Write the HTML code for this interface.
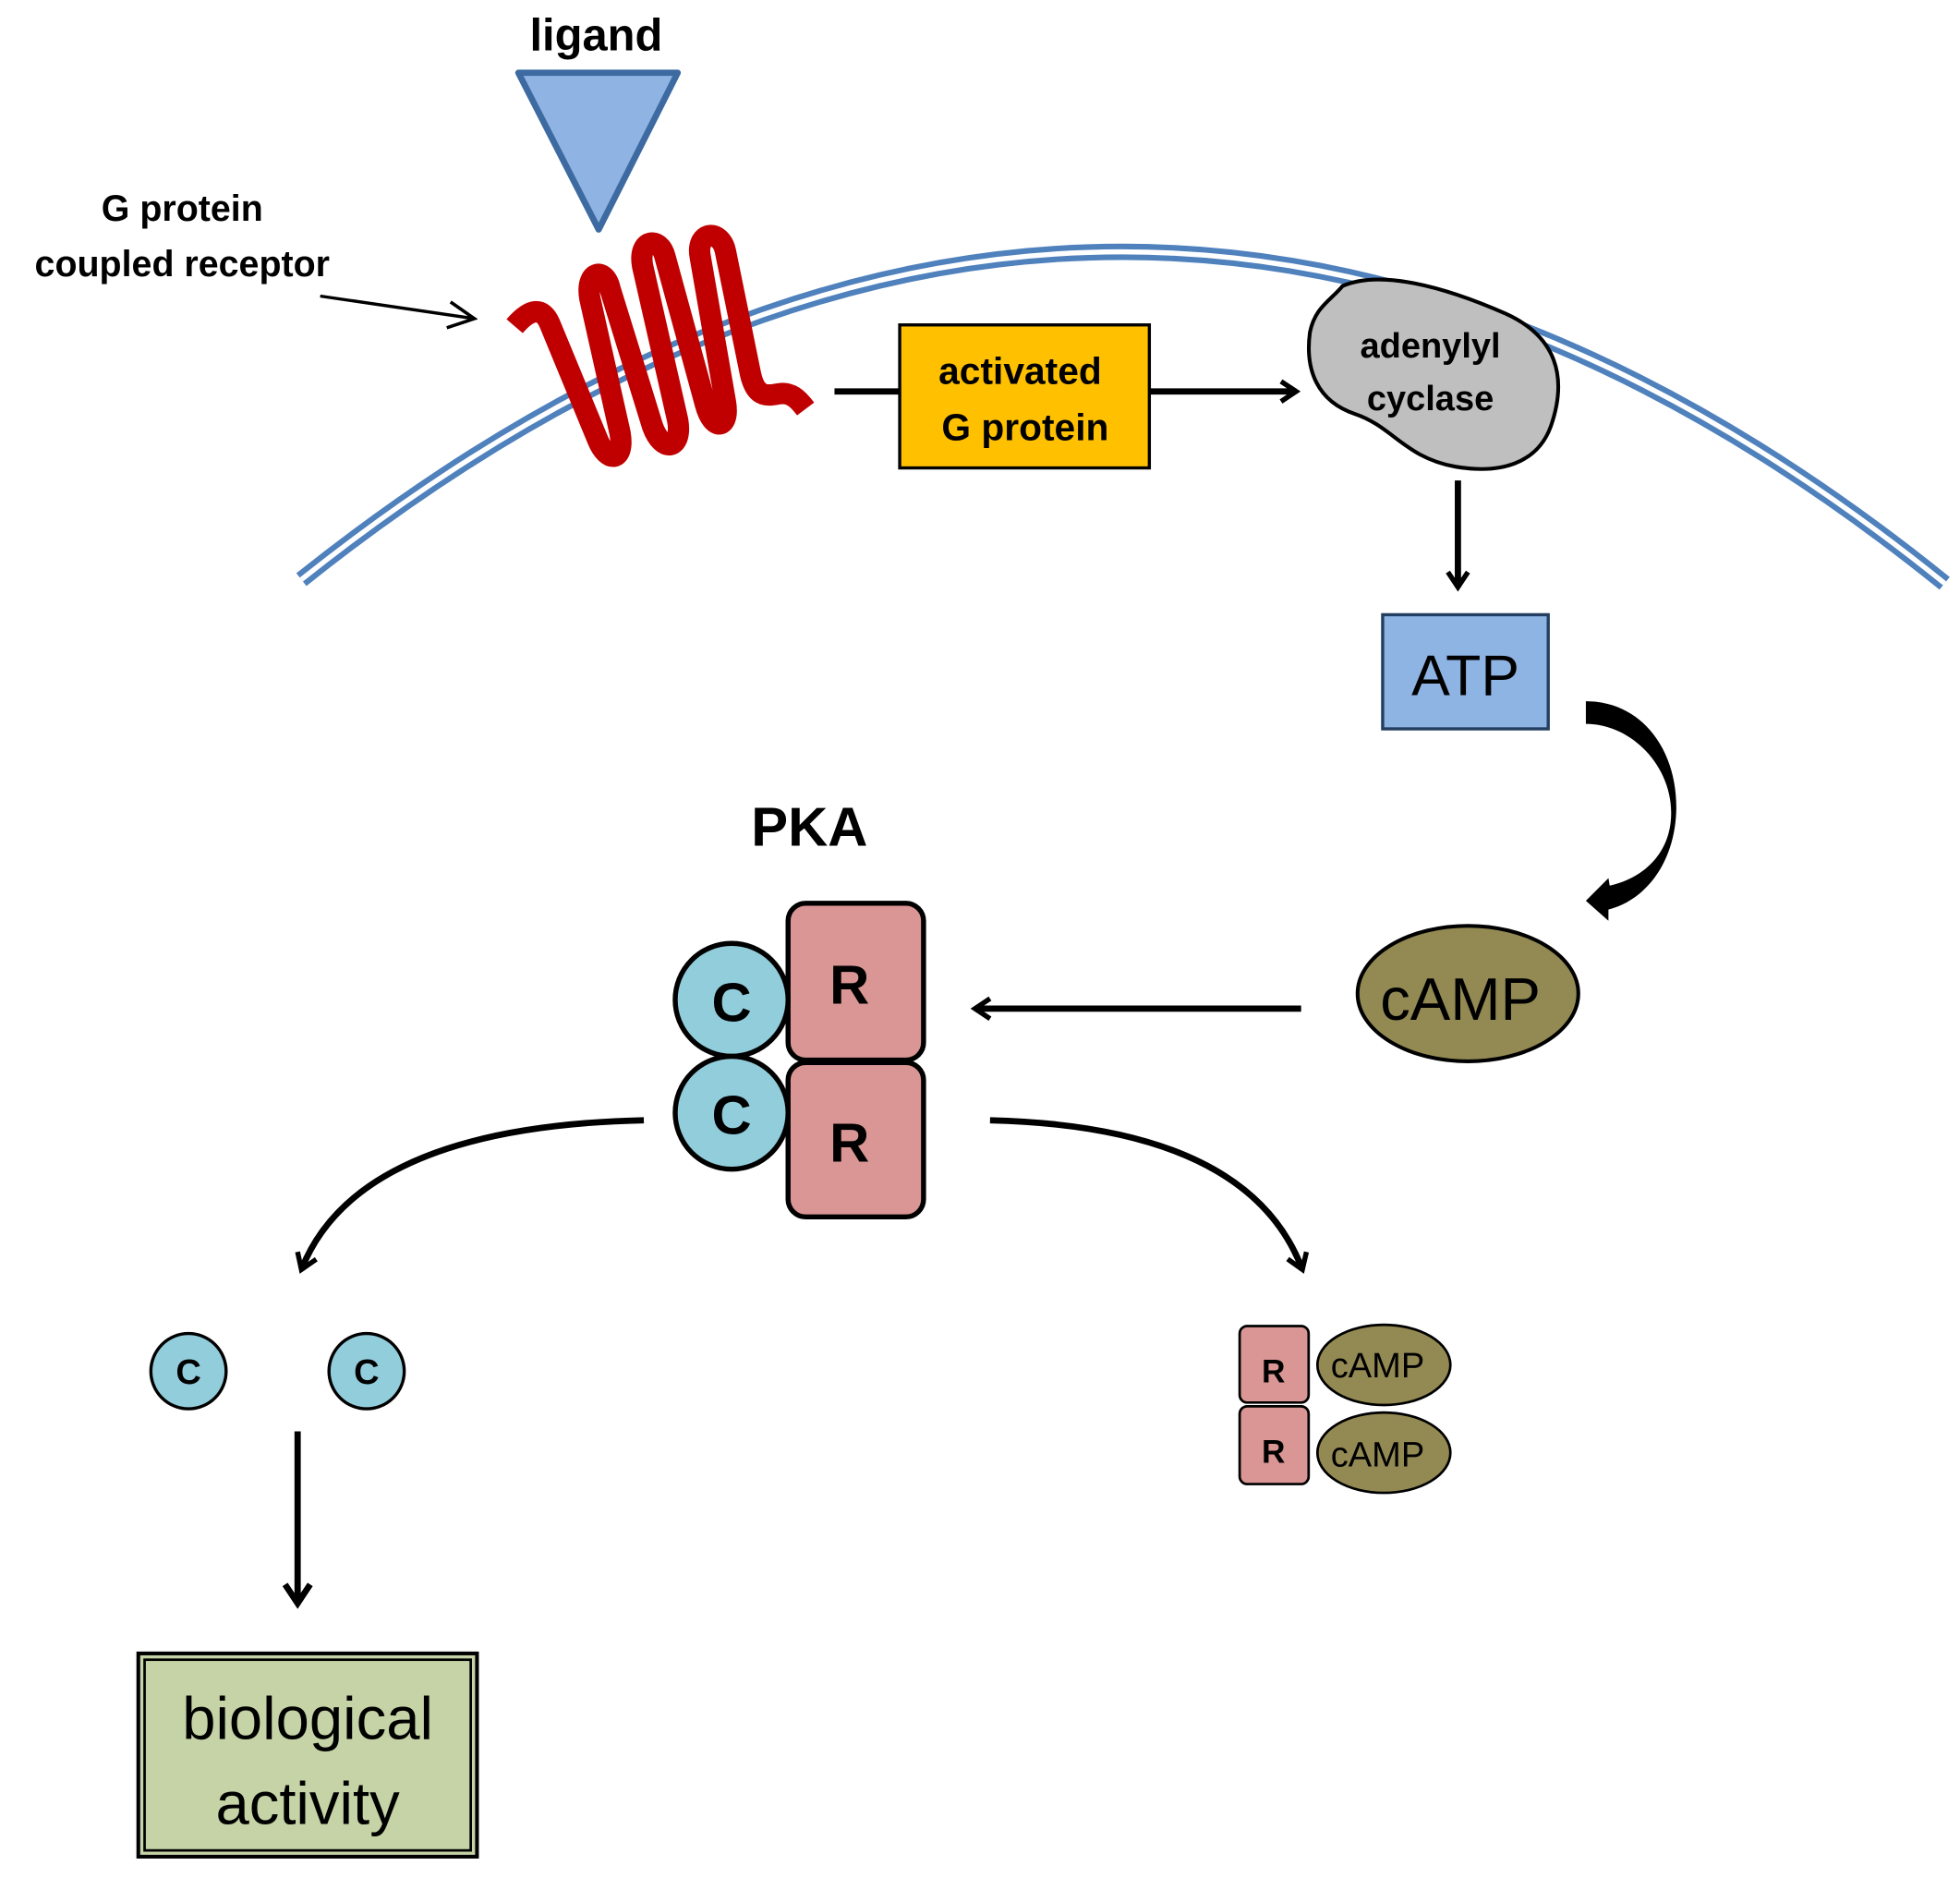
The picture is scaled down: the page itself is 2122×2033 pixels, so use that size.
<!DOCTYPE html>
<html><head><meta charset="utf-8"><style>
html,body{margin:0;padding:0;background:#fff;}
svg{display:block;}
text{font-family:"Liberation Sans",sans-serif;}
</style></head><body>
<svg width="2122" height="2033" viewBox="0 0 1562 1497" xmlns="http://www.w3.org/2000/svg">
<defs>
<marker id="open" viewBox="0 0 20 20" refX="16" refY="10" markerWidth="20" markerHeight="20" markerUnits="userSpaceOnUse" orient="auto">
<path d="M4,2 L16,10 L4,18" fill="none" stroke="#000" stroke-width="4"/></marker>
<marker id="open2" viewBox="0 0 24 24" refX="19" refY="12" markerWidth="24" markerHeight="24" markerUnits="userSpaceOnUse" orient="auto">
<path d="M4,2 L19,12 L4,22" fill="none" stroke="#000" stroke-width="5"/></marker>
<marker id="thin" viewBox="0 0 20 20" refX="18" refY="10" markerWidth="26" markerHeight="26" markerUnits="userSpaceOnUse" orient="auto">
<path d="M2,2 L18,10 L2,18" fill="none" stroke="#000" stroke-width="2"/></marker>
</defs>
<!-- membrane -->
<path d="M240,462 Q897,-62 1550,465" fill="none" stroke="#4f81bd" stroke-width="13"/>
<path d="M240,462 Q897,-62 1550,465" fill="none" stroke="#fff" stroke-width="4"/>
<!-- ligand -->
<text x="475" y="40" font-size="36" font-weight="bold" text-anchor="middle">ligand</text>
<polygon points="413,58 540,58 477,183" fill="#8fb4e3" stroke="#3d6aa0" stroke-width="5" stroke-linejoin="round"/>
<text x="145" y="176" font-size="29" font-weight="bold" text-anchor="middle">G protein</text>
<text x="145" y="220" font-size="29" font-weight="bold" text-anchor="middle">coupled receptor</text>
<line x1="255" y1="236" x2="378" y2="254" stroke="#000" stroke-width="2.5" marker-end="url(#thin)"/>
<!-- receptor -->
<path d="M410,260 C422,246 432,244 438,258 L476,350 C484,370 498,368 494,345 L470,238 C466,216 482,212 486,230 L520,340 C528,362 544,358 540,335 L512,212 C508,190 526,188 530,205 L562,322 C568,345 582,342 578,320 L558,205 C554,184 574,182 578,200 L598,298 C602,316 610,316 620,314 C630,312 636,318 642,326" fill="none" stroke="#c00000" stroke-width="17" stroke-linejoin="round"/>
<!-- G protein -->
<line x1="665" y1="312" x2="717" y2="312" stroke="#000" stroke-width="5"/>
<rect x="717" y="259" width="199" height="114" fill="#ffc000" stroke="#000" stroke-width="2.5"/>
<text x="813" y="306" font-size="30" font-weight="bold" text-anchor="middle">activated</text>
<text x="817" y="351" font-size="30" font-weight="bold" text-anchor="middle">G protein</text>
<line x1="916" y1="312" x2="1033" y2="312" stroke="#000" stroke-width="5" marker-end="url(#open)"/>
<!-- adenylyl cyclase -->
<path d="M1070,228 C1100,215 1150,228 1200,250 C1240,268 1250,300 1236,340 C1225,370 1195,378 1160,372 C1120,365 1110,340 1080,330 C1050,320 1040,295 1044,265 C1048,245 1060,240 1070,228 Z" fill="#bfbfbf" stroke="#000" stroke-width="3"/>
<text x="1140" y="285" font-size="28" font-weight="bold" text-anchor="middle">adenylyl</text>
<text x="1140" y="327" font-size="28" font-weight="bold" text-anchor="middle">cyclase</text>
<line x1="1162" y1="383" x2="1162" y2="468" stroke="#000" stroke-width="5" marker-end="url(#open)"/>
<!-- ATP -->
<rect x="1102" y="490" width="132" height="91" fill="#8eb4e3" stroke="#233e60" stroke-width="2.5"/>
<text x="1168" y="554" font-size="46" text-anchor="middle">ATP</text>
<path d="M1264,559 C1310,559 1338,600 1336,648 C1334,690 1310,718 1282,725 L1282,734 L1264,718 L1282,700 L1283,706 C1310,700 1332,680 1332,648 C1332,610 1300,577 1264,577 Z" fill="#000"/>
<!-- cAMP -->
<ellipse cx="1170" cy="792" rx="88" ry="54" fill="#938953" stroke="#000" stroke-width="3"/>
<text x="1164" y="813" font-size="48" text-anchor="middle">cAMP</text>
<line x1="1037" y1="804" x2="777" y2="804" stroke="#000" stroke-width="5" marker-end="url(#open)"/>
<!-- PKA -->
<text x="645" y="674" font-size="44" font-weight="bold" text-anchor="middle">PKA</text>
<rect x="628" y="720" width="108" height="125" rx="14" fill="#d99694" stroke="#000" stroke-width="4"/>
<rect x="628" y="847" width="108" height="123" rx="14" fill="#d99694" stroke="#000" stroke-width="4"/>
<text x="677" y="800" font-size="44" font-weight="bold" text-anchor="middle">R</text>
<text x="677" y="926" font-size="44" font-weight="bold" text-anchor="middle">R</text>
<circle cx="583" cy="797" r="45" fill="#92cddc" stroke="#000" stroke-width="4"/>
<circle cx="583" cy="887" r="45" fill="#92cddc" stroke="#000" stroke-width="4"/>
<text x="583" y="814" font-size="44" font-weight="bold" text-anchor="middle">C</text>
<text x="583" y="904" font-size="44" font-weight="bold" text-anchor="middle">C</text>
<!-- curves -->
<path d="M513,893 Q285,898 240,1012" fill="none" stroke="#000" stroke-width="5" marker-end="url(#open)"/>
<path d="M789,893 Q995,898 1038,1012" fill="none" stroke="#000" stroke-width="5" marker-end="url(#open)"/>
<!-- small C -->
<circle cx="150" cy="1093" r="30" fill="#92cddc" stroke="#000" stroke-width="2.5"/>
<circle cx="292" cy="1093" r="30" fill="#92cddc" stroke="#000" stroke-width="2.5"/>
<text x="150" y="1103" font-size="28" font-weight="bold" text-anchor="middle">C</text>
<text x="292" y="1103" font-size="28" font-weight="bold" text-anchor="middle">C</text>
<line x1="237" y1="1141" x2="237" y2="1278" stroke="#000" stroke-width="5" marker-end="url(#open2)"/>
<!-- biological activity -->
<rect x="110" y="1318" width="270" height="162" fill="#c5d3a6" stroke="#000" stroke-width="3"/>
<rect x="115" y="1323" width="260" height="152" fill="none" stroke="#000" stroke-width="2"/>
<text x="245" y="1386" font-size="48" text-anchor="middle">biological</text>
<text x="245" y="1454" font-size="48" text-anchor="middle">activity</text>
<!-- small R / cAMP -->
<rect x="988" y="1057" width="55" height="61" rx="6" fill="#d99694" stroke="#000" stroke-width="2"/>
<rect x="988" y="1121" width="55" height="62" rx="6" fill="#d99694" stroke="#000" stroke-width="2"/>
<text x="1015" y="1102" font-size="26" font-weight="bold" text-anchor="middle">R</text>
<text x="1015" y="1166" font-size="26" font-weight="bold" text-anchor="middle">R</text>
<ellipse cx="1103" cy="1088" rx="53" ry="32" fill="#938953" stroke="#000" stroke-width="2"/>
<ellipse cx="1103" cy="1158" rx="53" ry="32" fill="#938953" stroke="#000" stroke-width="2"/>
<text x="1098" y="1098" font-size="28" text-anchor="middle">cAMP</text>
<text x="1098" y="1169" font-size="28" text-anchor="middle">cAMP</text>
</svg>
</body></html>
